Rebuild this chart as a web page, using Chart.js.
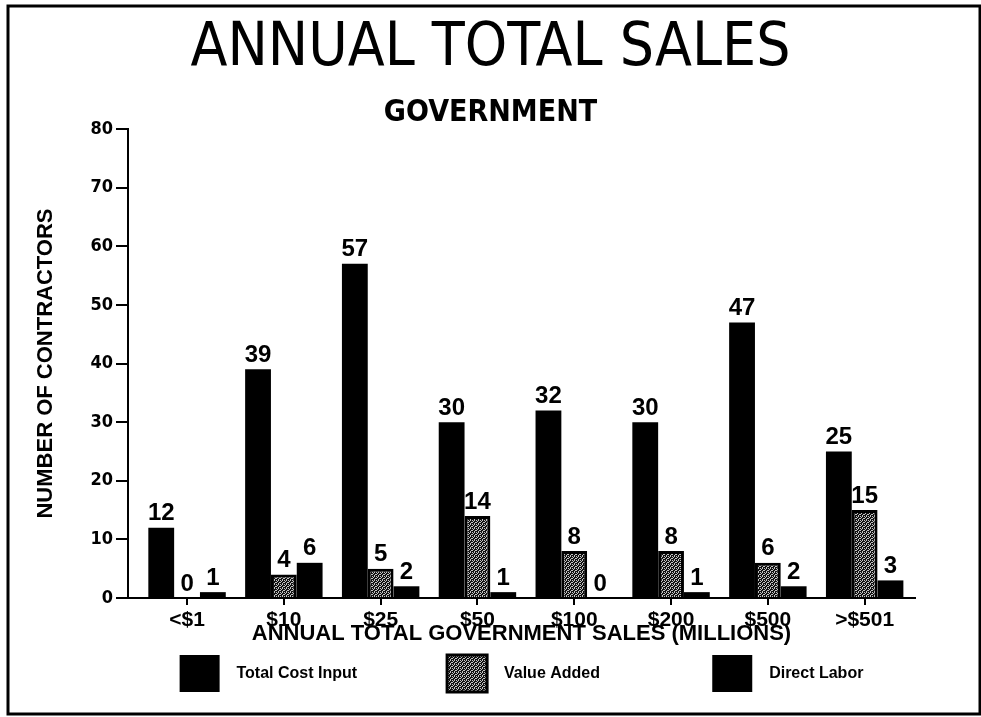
<!DOCTYPE html>
<html>
<head>
<meta charset="utf-8">
<script src="https://cdn.jsdelivr.net/npm/chart.js@4"></script>
<style>
  html, body { margin: 0; padding: 0; background: #fff; }
  #wrap { width: 981px; height: 717px; }
</style>
</head>
<body>
<div id="wrap"><canvas id="chart" width="981" height="717"></canvas></div>
<script>
const categories = ['<$1', '$10', '$25', '$50', '$100', '$200', '$500', '>$501'];
const totalCostInput = [12, 39, 57, 30, 32, 30, 47, 25];
const valueAdded = [0, 4, 5, 14, 8, 8, 6, 15];
const directLabor = [1, 6, 2, 1, 0, 1, 2, 3];
const seriesNames = ['Total Cost Input', 'Value Added', 'Direct Labor'];
const yTicks = [0, 10, 20, 30, 40, 50, 60, 70, 80];

const COND = "'DejaVu Sans Condensed', 'Liberation Sans', sans-serif";
const SANS = "'Liberation Sans', Arial, sans-serif";

// speckled grey fill for the value added bars
const makeDots = () => {
    const c = document.createElement('canvas');
    c.width = 4; c.height = 4;
    const g = c.getContext('2d');
    g.fillStyle = '#111';
    g.fillRect(0, 0, 4, 4);
    g.fillStyle = '#c4c4c4';
    g.fillRect(0, 0, 1, 1);
    g.fillRect(2, 0, 1, 1);
    g.fillRect(1, 1, 1, 1);
    g.fillRect(3, 2, 1, 1);
    g.fillRect(0, 2, 1, 1);
    g.fillRect(2, 3, 1, 1);
    return g.createPattern(c, 'repeat');
}

// x is a linear axis so the first group can sit a little off the y axis, like the scan
const points = values => values.map((v, i) => ({x: i, y: v}));

const frame = {
    id: 'frame',
    beforeDraw: chart => {
        const ctx = chart.ctx;
        ctx.save();
        ctx.fillStyle = '#fff';
        ctx.fillRect(0, 0, chart.width, chart.height);
        ctx.strokeStyle = '#000';
        ctx.lineWidth = 3;
        ctx.strokeRect(8, 6, 972, 708);
        ctx.restore();
    }
};

const valueLabels = {
    id: 'valueLabels',
    afterDatasetsDraw: chart => {
        const ctx = chart.ctx;
        ctx.save();
        ctx.fillStyle = '#000';
        ctx.font = 'bold 24px ' + SANS;
        ctx.textAlign = 'center';
        ctx.textBaseline = 'bottom';
        chart.data.datasets.forEach((ds, i) => {
            chart.getDatasetMeta(i).data.forEach((bar, j) => {
                ctx.fillText(String(ds.data[j].y), bar.x, bar.y - 2);
            });
        });
        ctx.restore();
    }
};

const pad = (s, n) => '  ' + s + ' '.repeat(n);

new Chart(document.getElementById('chart'), {
    type: 'bar',
    data: {
        datasets: [
            {label: seriesNames[0], data: points(totalCostInput), backgroundColor: '#000', borderColor: '#000', borderWidth: 0},
            {label: seriesNames[1], data: points(valueAdded), backgroundColor: makeDots(), borderColor: '#000', borderWidth: 3},
            {label: seriesNames[2], data: points(directLabor), backgroundColor: '#000', borderColor: '#000', borderWidth: 0}
        ]
    },
    options: {
        responsive: false,
        animation: false,
        layout: {padding: {left: 0, right: 0, top: 0, bottom: 15}},
        datasets: {bar: {categoryPercentage: 0.8, barPercentage: 1.0}},
        scales: {
            x: {
                type: 'linear',
                min: -0.61, max: 7.52,
                offset: false,
                afterBuildTicks: s => { s.ticks = categories.map((c, i) => ({value: i})); },
                grid: {display: true, drawOnChartArea: false, offset: false, tickLength: 7, color: '#000', lineWidth: 2},
                border: {display: true, color: '#000', width: 2},
                ticks: {color: '#000', padding: 3, autoSkip: false, maxRotation: 0,
                    font: {family: SANS, size: 21, weight: 'bold'},
                    callback: v => categories[v]},
                title: {display: true, text: 'ANNUAL TOTAL GOVERNMENT SALES (MILLIONS)', color: '#000',
                    font: {family: SANS, size: 22, weight: 'bold', lineHeight: 1}, padding: {top: 0, bottom: 0}},
                afterFit: s => { s.height = 47; }
            },
            y: {
                min: 0, max: 80,
                afterBuildTicks: s => { s.ticks = yTicks.map(v => ({value: v})); },
                grid: {display: true, drawOnChartArea: false, tickLength: 12, color: '#000', lineWidth: 2},
                border: {display: true, color: '#000', width: 2},
                ticks: {color: '#000', padding: 3, font: {family: COND, size: 18, weight: 'bold'}},
                title: {display: true, text: 'NUMBER OF CONTRACTORS', color: '#000',
                    font: {family: SANS, size: 22, weight: 'bold', lineHeight: 1}, padding: {top: 35, bottom: 0}},
                afterFit: s => { s.width = 128; }
            },
            // empty box on the right, keeps the plot off the right edge while titles stay centred
            spacer: {
                type: 'linear', position: 'right', display: true,
                grid: {display: false}, border: {display: false}, ticks: {display: false},
                afterFit: s => { s.width = 66; }
            }
        },
        plugins: {
            title: {display: true, text: 'ANNUAL TOTAL SALES', color: '#000',
                font: {family: COND, size: 60, weight: 'normal', lineHeight: 1}, padding: {top: 19.5, bottom: 19}},
            subtitle: {display: true, text: 'GOVERNMENT', color: '#000',
                font: {family: COND, size: 30, weight: 'bold', lineHeight: 1}, padding: {top: 0, bottom: 0.5}},
            legend: {
                position: 'bottom',
                fullSize: false,
                labels: {
                    color: '#000', boxWidth: 40, boxHeight: 37, padding: 10,
                    font: {family: SANS, size: 16, weight: 'bold'},
                    generateLabels: chart => Chart.defaults.plugins.legend.labels.generateLabels(chart)
                        .map((it, i) => ({...it, text: pad(it.text, [18, 23, 0][i])}))
                }
            },
            tooltip: {enabled: false}
        }
    },
    plugins: [frame, valueLabels]
});
</script>
</body>
</html>
